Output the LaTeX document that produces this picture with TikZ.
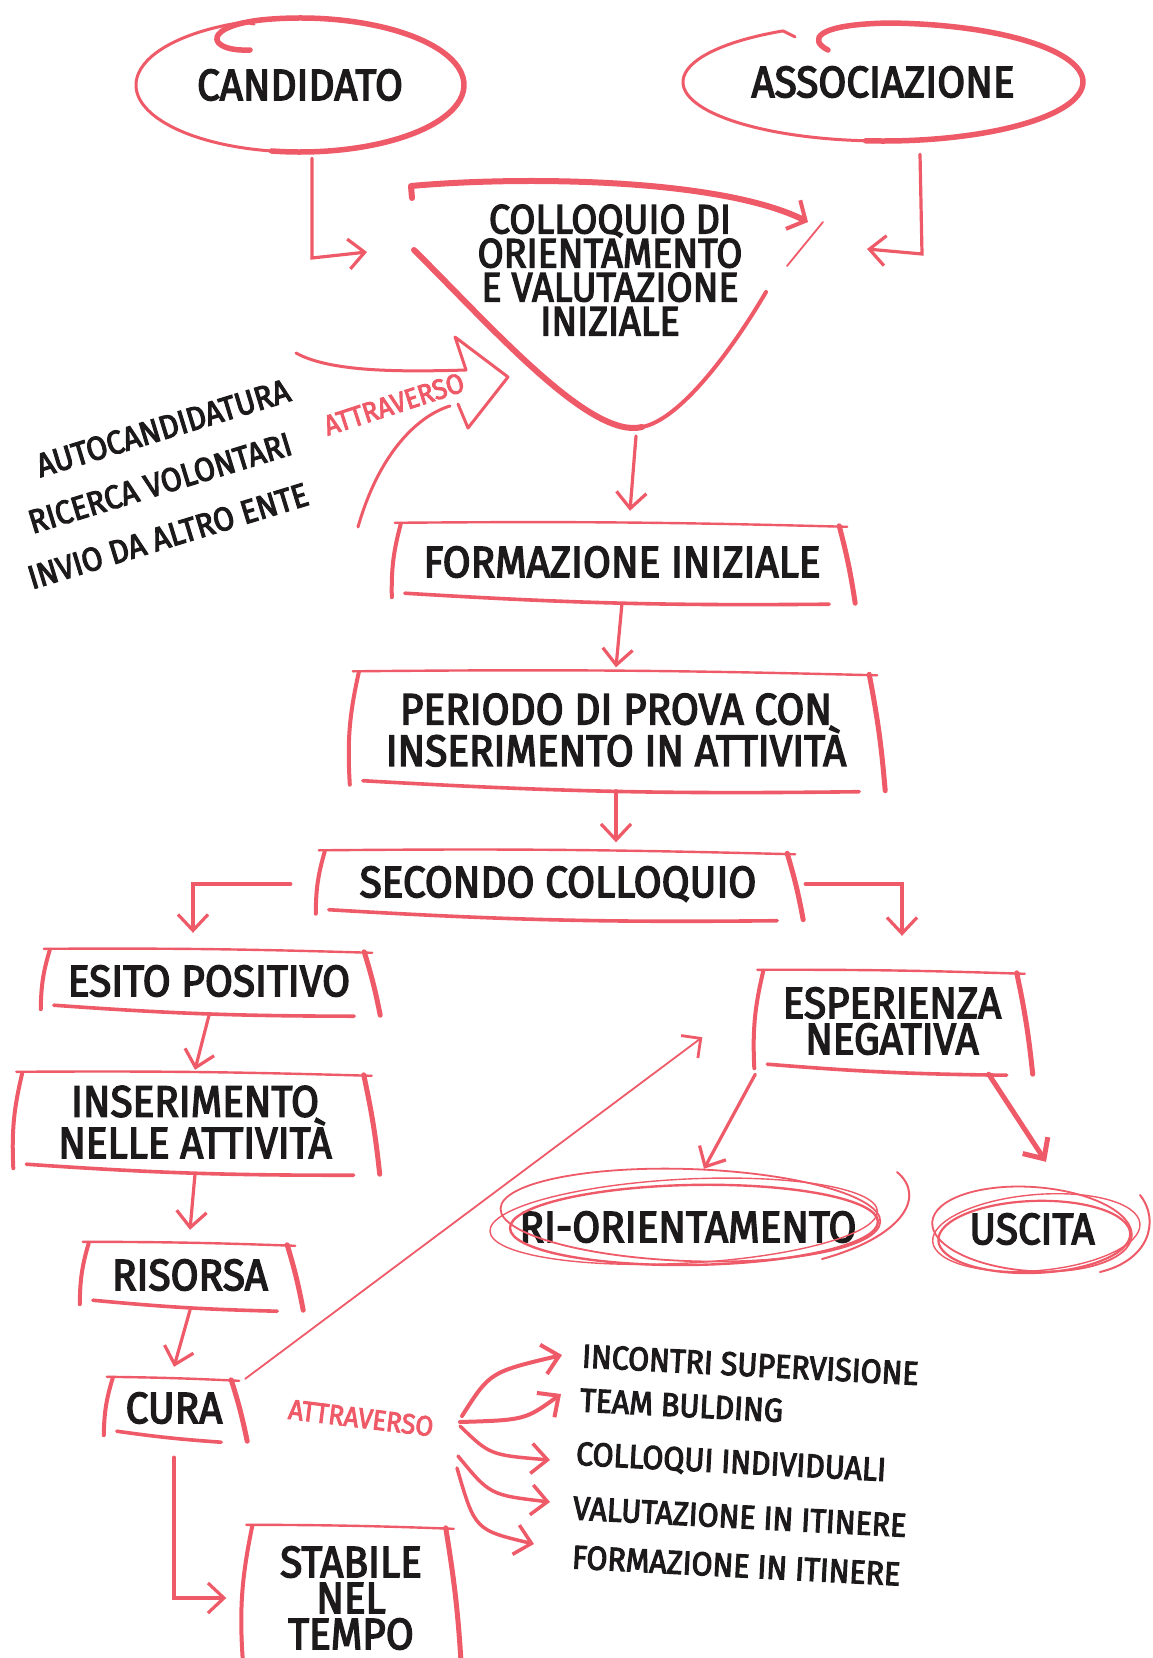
\documentclass[tikz,border=0pt]{standalone}
\usepackage{fontspec}
\setmainfont{Fira Sans}[FakeStretch=0.92,FakeBold=3.2]
\usetikzlibrary{arrows.meta,shapes.geometric}
\definecolor{hred}{HTML}{EF5A68}
\definecolor{ink}{HTML}{1C1A1A}
\tikzset{
  lbl/.style={font=\fontsize{44}{36}\selectfont, text=ink, align=center, inner sep=0pt},
  small/.style={font=\fontsize{33}{33}\selectfont, text=ink, inner sep=0pt},
  redlbl/.style={font=\fontsize{28}{28}\selectfont, text=hred, inner sep=0pt},
  harr/.style={draw=hred, line width=3.2pt, line cap=round, -{Straight Barb[length=16pt,width=30pt]}},
  thinarr/.style={draw=hred, line width=1.8pt, line cap=round, -{Straight Barb[length=14pt,width=28pt,line width=2.8pt]}},
  stroke/.style={draw=hred, line cap=round, line join=round},
}
\newcommand\sketchbox[1]{%
  \draw[stroke,line width=2.4pt] ([shift={(4pt,-2pt)}]#1.north west) to[bend left=1] ([shift={(-6pt,-6pt)}]#1.north east);
  \draw[stroke,line width=5pt] ([shift={(-14pt,-5pt)}]#1.north east) to[bend left=3] ([shift={(2pt,0pt)}]#1.south east);
  \draw[stroke,line width=3.6pt] ([shift={(14pt,10pt)}]#1.south west) to[bend right=2] ([shift={(-24pt,-1pt)}]#1.south east);
  \draw[stroke,line width=4pt] ([shift={(10pt,-3pt)}]#1.north west) to[bend right=8] ([shift={(1pt,6pt)}]#1.south west);
}
\begin{document}
\begin{tikzpicture}[x=1pt,y=-1pt]
\useasboundingbox (0,0) rectangle (1153,1658);
\fill[white] (0,0) rectangle (1153,1658);

% --- top ellipses
\node[lbl, ellipse, minimum width=328pt, minimum height=134pt] (cand) at (300,85) {CANDIDATO};
\draw[stroke,line width=5.5pt] (250,50) .. controls (205,52) and (200,24) .. ([shift={(-100:164 and 67)}]cand.center) arc[start angle=-100, end angle=100, x radius=164, y radius=67];
\draw[stroke,line width=3pt] ([shift={(100:164 and 67)}]cand.center) arc[start angle=100, end angle=250, x radius=164, y radius=67] -- ++(10,2);

\node[lbl, ellipse, minimum width=400pt, minimum height=118pt] (ass) at (883,82) {ASSOCIAZIONE};
\draw[stroke,line width=5.5pt] (828,50) .. controls (808,40) and (815,24) .. ([shift={(-88:200 and 59)}]ass.center) arc[start angle=-88, end angle=95, x radius=200, y radius=59];
\draw[stroke,line width=3pt] ([shift={(95:200 and 59)}]ass.center) arc[start angle=95, end angle=240, x radius=200, y radius=59] -- ++(12,6);

% --- triangle
\node[lbl, font=\fontsize{41}{34}\selectfont] (coll) at (610,270) {COLLOQUIO DI\\ORIENTAMENTO\\E VALUTAZIONE\\INIZIALE};
\draw[stroke,line width=6pt,-{Straight Barb[length=14pt,width=32pt,line width=4pt]}] (412,198) -- (411,186) .. controls (520,176) and (720,178) .. (808,222);
\draw[stroke,line width=1.8pt] (823,222) -- (787,266);
\draw[stroke,line width=6pt] (414,250) .. controls (490,325) and (590,440) .. (642,427);
\draw[stroke,line width=4pt] (766,292) .. controls (732,350) and (680,420) .. (642,427);
\coordinate (tribot) at (636,436);
\coordinate (collL) at (367,252);
\coordinate (collR) at (867,249);

% --- left sources
\node[small, rotate=17] (l1) at (163,428) {AUTOCANDIDATURA};
\node[small, rotate=17] (l2) at (160,483) {RICERCA VOLONTARI};
\node[small, rotate=17] (l3) at (168,536) {INVIO DA ALTRO ENTE};
\node[redlbl, rotate=18] (att1) at (394,404) {ATTRAVERSO};
\draw[stroke,line width=3pt] (296,353) .. controls (330,372) and (400,372) .. (466,370) -- (455,337) -- (508,377) -- (468,428) -- (458,404);
\draw[stroke,line width=3pt] (450,406) .. controls (420,415) and (380,450) .. (358,527);

% --- boxes
\node[lbl, minimum width=462pt, minimum height=82pt] (form) at (622,562) {FORMAZIONE INIZIALE};
\node[lbl, minimum width=534pt, minimum height=121pt] (per) at (616,730) {PERIODO DI PROVA CON\\INSERIMENTO IN ATTIVITÀ};
\node[lbl, minimum width=486pt, minimum height=71pt] (sec) at (558,884) {SECONDO COLLOQUIO};
\node[lbl, minimum width=338pt, minimum height=68pt] (esito) at (209,981) {ESITO POSITIVO};
\node[lbl, minimum width=365pt, minimum height=104pt] (ins) at (195,1122) {INSERIMENTO\\NELLE ATTIVITÀ};
\node[lbl, minimum width=222pt, minimum height=70pt] (ris) at (190,1275) {RISORSA};
\node[lbl, minimum width=142pt, minimum height=66pt] (cura) at (174,1408) {CURA};
\node[lbl, minimum width=217pt, minimum height=150pt] (stab) at (351,1598) {STABILE\\NEL\\TEMPO};
\node[lbl, minimum width=277pt, minimum height=106pt] (esp) at (892,1021) {ESPERIENZA\\NEGATIVA};
\foreach \b in {form,per,sec,esito,ins,ris,cura,stab,esp} {\sketchbox{\b}}

% --- outcome ellipses
\node[lbl, ellipse, minimum width=380pt, minimum height=96pt] (rio) at (688,1227) {RI-ORIENTAMENTO};
\draw[stroke,line width=1.8pt, rotate around={-2:(rio.center)}] ([shift={(2,-12)}]rio.center) ellipse [x radius=190, y radius=46];
\draw[stroke,line width=1.4pt, rotate around={3:(rio.center)}] ([shift={(-4,-6)}]rio.center) ellipse [x radius=194, y radius=42];
\draw[stroke,line width=2.4pt, rotate around={1:(rio.center)}] ([shift={(6,-2)}]rio.center) ellipse [x radius=184, y radius=40];
\draw[stroke,line width=2pt] (897,1172) .. controls (927,1197) and (902,1237) .. (822,1259);

\node[lbl, ellipse, minimum width=200pt, minimum height=90pt] (usc) at (1032,1229) {USCITA};
\draw[stroke,line width=1.8pt, rotate around={-4:(usc.center)}] (usc.center) ellipse [x radius=100, y radius=42];
\draw[stroke,line width=1.4pt, rotate around={5:(usc.center)}] ([shift={(4,4)}]usc.center) ellipse [x radius=104, y radius=38];
\draw[stroke,line width=2.2pt, rotate around={2:(usc.center)}] ([shift={(2,8)}]usc.center) ellipse [x radius=96, y radius=36];
\draw[stroke,line width=2pt] (1140,1195) .. controls (1160,1220) and (1150,1260) .. (1100,1272);

% --- CURA activities
\node[redlbl, rotate=-7] (att2) at (361,1418) {ATTRAVERSO};
\node[small, rotate=-3, anchor=west] (i1) at (582,1356) {INCONTRI SUPERVISIONE};
\node[small, rotate=-3, anchor=west] (i2) at (580,1400) {TEAM BULDING};
\node[small, rotate=-3, anchor=west] (i3) at (576,1455) {COLLOQUI INDIVIDUALI};
\node[small, rotate=-3, anchor=west] (i4) at (573,1508) {VALUTAZIONE IN ITINERE};
\node[small, rotate=-3, anchor=west] (i5) at (572,1557) {FORMAZIONE IN ITINERE};
\coordinate (fan) at (460,1422);

% --- connectors
\draw[harr] ([shift={(12pt,-6pt)}]cand.south) -- (312,258) -- (collL);
\draw[harr] ([shift={(37pt,-13pt)}]ass.south) -- (922,254) -- (collR);
\draw[harr] (tribot) -- ([shift={(8pt,10pt)}]form.north);
\draw[harr] (form.south) -- ([yshift=2pt]per.north);
\draw[harr] (per.south) -- ([yshift=6pt]per.south |- sec.north);
\draw[harr] ([xshift=-24pt]sec.west) -| ([shift={(-16pt,14pt)}]esito.north);
\draw[harr] ([xshift=4pt]sec.east) -| ([shift={(10pt,32pt)}]esp.north);
\draw[harr] (esito.south) -- (ins.north);
\draw[harr] (ins.south) -- ([yshift=10pt]ris.north);
\draw[harr] (ris.south) -- ([yshift=8pt]cura.north);
\draw[harr] ([yshift=-16pt]cura.south) |- ([xshift=-16pt]stab.west);
\draw[thinarr] ([shift={(0pt,-4pt)}]cura.north east) -- ([shift={(-51pt,37pt)}]esp.south west);
\draw[harr] ([xshift=2pt]esp.south west) -- ([shift={(16pt,10pt)}]rio.north);
\draw[harr, line width=5pt] ([xshift=-42pt]esp.south east) -- ([shift={(14pt,22pt)}]usc.north);

\draw[harr, line width=4pt] ([shift={(2pt,6pt)}]fan) .. controls (490,1372) .. ([shift={(-20pt,1pt)}]i1.west);
\draw[harr, line width=4pt] (fan) .. controls (525,1420) .. ([shift={(-19pt,6pt)}]i2.west);
\draw[harr, line width=3.5pt] ([shift={(0pt,-4pt)}]fan) .. controls (490,1455) .. ([shift={(-26pt,-5pt)}]i3.west);
\draw[harr, line width=3.5pt] ([shift={(-2pt,-34pt)}]fan) .. controls (490,1495) .. ([shift={(-23pt,6pt)}]i4.west);
\draw[harr, line width=3.5pt] ([shift={(-3pt,-46pt)}]fan) .. controls (475,1530) .. ([shift={(-38pt,13pt)}]i5.west);
\end{tikzpicture}
\end{document}
